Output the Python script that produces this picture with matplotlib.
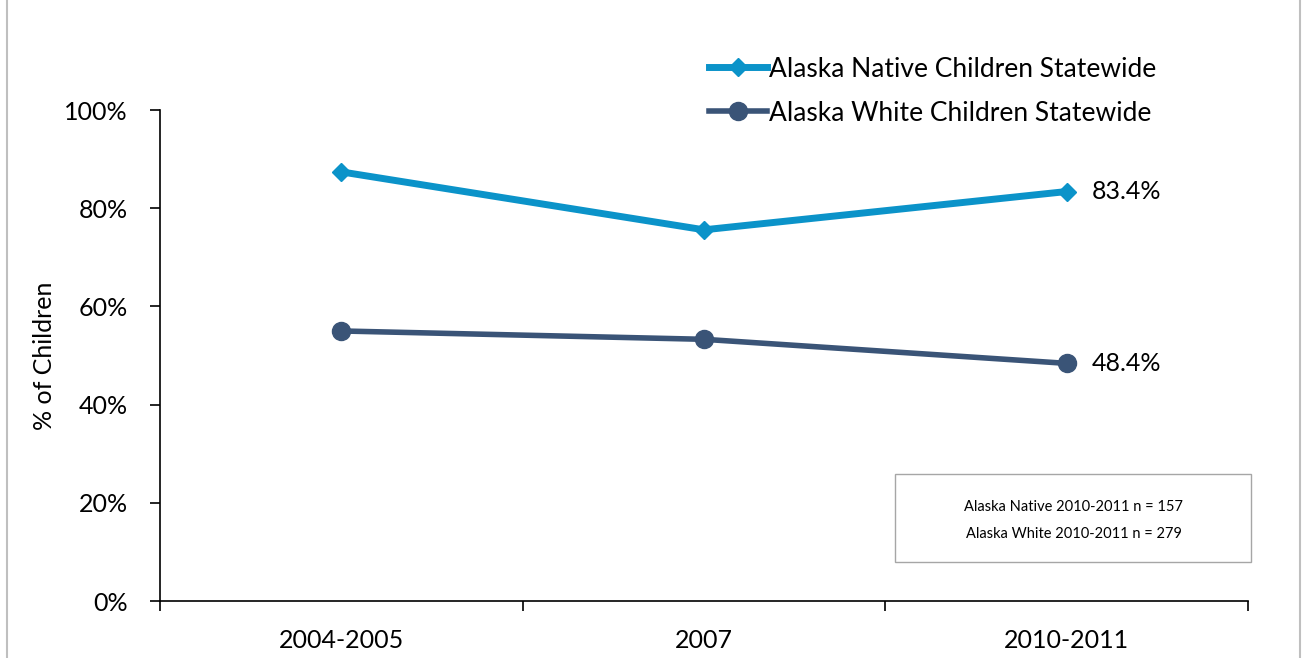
import matplotlib
matplotlib.use("Agg")
import matplotlib.pyplot as plt
from matplotlib.lines import Line2D

plt.rcParams['font.family'] = ['Lato', 'DejaVu Sans']

# data
years = ["2004-2005", "2007", "2010-2011"]
native = [87.4, 75.6, 83.4]
white = [55.0, 53.3, 48.4]
native_label = "Alaska Native Children Statewide"
white_label = "Alaska White Children Statewide"
note_lines = ["Alaska Native 2010-2011 n = 157", "Alaska White 2010-2011 n = 279"]

c_native = "#0b93c9"
c_white = "#3a5477"

fig = plt.figure(figsize=(13.02, 6.58), dpi=100)
ax = fig.add_axes([0.1229, 0.0866, 0.8356, 0.7462])

x = range(len(years))
ax.plot(x, native, color=c_native, lw=5, marker="D", ms=9, label=native_label)
ax.plot(x, white, color=c_white, lw=4, marker="o", ms=13, label=white_label)

ax.set_xlim(-0.5, 2.5)
ax.set_ylim(0, 100)
ax.set_yticks(range(0, 101, 20))
ax.set_yticklabels([f"{v}%" for v in range(0, 101, 20)], fontsize=18)
ax.set_xticks([-0.5, 0.5, 1.5, 2.5], minor=False)
ax.set_xticklabels([])
ax.set_xticks(list(x), minor=True)
ax.set_xticklabels(years, minor=True, fontsize=18)
ax.tick_params(axis="x", which="major", length=7, width=1.2, direction="out")
ax.tick_params(axis="x", which="minor", length=0, pad=20)
ax.tick_params(axis="y", length=7, width=1.2, pad=16)
ax.spines["top"].set_visible(False)
ax.spines["right"].set_visible(False)
ax.spines["left"].set_linewidth(1.2)
ax.spines["bottom"].set_linewidth(1.2)
ax.set_ylabel("% of Children", fontsize=18, labelpad=6)

# end labels
ax.annotate(f"{native[-1]}%", (2, native[-1]), xytext=(18, 0), textcoords="offset points",
            va="center", fontsize=18)
ax.annotate(f"{white[-1]}%", (2, white[-1]), xytext=(18, 0), textcoords="offset points",
            va="center", fontsize=18)

leg = fig.legend(loc="upper left", bbox_to_anchor=(0.526, 0.95), frameon=False,
                 fontsize=19, handlelength=2.2, handletextpad=0.1, labelspacing=0.72)

# note box
fig.text(0.8245, 0.2295, note_lines[0], fontsize=10.5, ha="center", va="center")
fig.text(0.8245, 0.188, note_lines[1], fontsize=10.5, ha="center", va="center")
fig.patches.append(plt.Rectangle((0.6874, 0.146), 0.2734, 0.134, transform=fig.transFigure,
                                 fill=False, ec="#a6a6a6", lw=1))

# outer border
fig.add_artist(Line2D([0.005, 0.005], [0, 1], color="#bfbfbf", lw=1.5, transform=fig.transFigure))
fig.add_artist(Line2D([0.9985, 0.9985], [0, 1], color="#bfbfbf", lw=1.5, transform=fig.transFigure))

fig.savefig("out.png", dpi=100)
